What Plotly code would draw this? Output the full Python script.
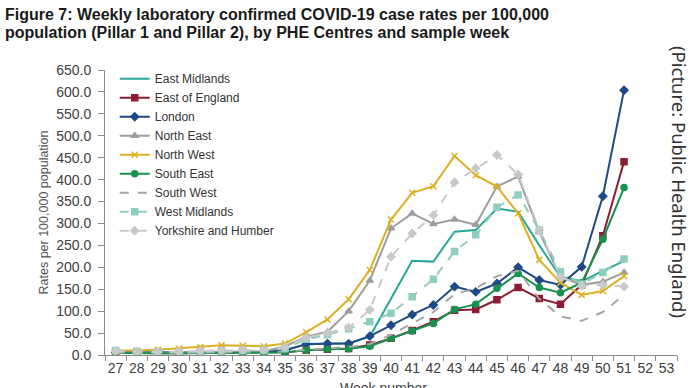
import plotly.graph_objects as go

weeks = [str(w) for w in range(27, 54)]
data_weeks = [str(w) for w in range(27, 52)]

east_midlands = [8, 7, 6, 6, 6, 7, 8, 8, 12, 24, 26, 27, 42, 128, 215, 213, 281, 285, 334, 327, 250, 178, 168, 192, 214]
east_of_england = [5, 4, 4, 4, 5, 5, 6, 6, 6, 11, 13, 15, 23, 38, 56, 76, 102, 104, 126, 154, 129, 116, 160, 272, 441]
london = [6, 5, 5, 5, 6, 6, 7, 7, 10, 25, 26, 26, 43, 68, 92, 114, 156, 144, 163, 200, 171, 160, 201, 362, 604]
north_east = [6, 5, 5, 5, 6, 7, 8, 8, 20, 42, 53, 100, 170, 289, 323, 299, 309, 297, 384, 407, 280, 178, 160, 167, 188]
north_west = [10, 10, 12, 15, 18, 22, 21, 20, 26, 52, 81, 127, 194, 309, 370, 385, 454, 410, 384, 323, 217, 165, 137, 146, 180]
south_east = [5, 4, 4, 4, 4, 5, 5, 5, 6, 11, 13, 14, 20, 38, 55, 72, 104, 116, 152, 186, 154, 142, 165, 264, 382]
south_west = [6, 5, 5, 5, 6, 7, 7, 7, 8, 12, 15, 18, 25, 46, 72, 98, 139, 152, 180, 192, 128, 88, 78, 98, 137]
west_midlands = [10, 8, 7, 7, 8, 9, 10, 10, 15, 36, 46, 60, 76, 95, 133, 173, 236, 274, 337, 365, 285, 190, 162, 188, 219]
yorkshire_humber = [8, 7, 7, 8, 9, 10, 12, 12, 18, 40, 50, 62, 103, 224, 277, 319, 394, 426, 456, 412, 285, 178, 158, 160, 156]

y_ticks = list(range(0, 651, 50))

title_line1 = "Figure 7: Weekly laboratory confirmed COVID-19 case rates per 100,000"
title_line2 = "population (Pillar 1 and Pillar 2), by PHE Centres and sample week"
source_text = "(Picture: Public Health England)"
x_title = "Week number"
y_title = "Rates per 100,000 population"

series = [
    ("East Midlands", east_midlands, "#2AA898", "solid", None),
    ("East of England", east_of_england, "#8C1D33", "solid", "square"),
    ("London", london, "#1F4A86", "solid", "diamond"),
    ("North East", north_east, "#9E9E9E", "solid", "triangle-up"),
    ("North West", north_west, "#DDB024", "solid", "x-thin-open"),
    ("South East", south_east, "#17924E", "solid", "circle"),
    ("South West", south_west, "#A6A6A6", "dash", None),
    ("West Midlands", west_midlands, "#8ECDBF", "dash", "square"),
    ("Yorkshire and Humber", yorkshire_humber, "#C9C9C9", "dash", "diamond"),
]

fig = go.Figure()
for name, vals, color, dash, symbol in series:
    mode = "lines+markers" if symbol else "lines"
    marker = dict(symbol=symbol, size=6, color=color, line=dict(color=color, width=1.5)) if symbol else None
    fig.add_trace(go.Scatter(
        x=data_weeks, y=vals, name=name, mode=mode,
        line=dict(color=color, width=2, dash=dash),
        marker=marker,
    ))

L, R, T, B = 105, 23, 70, 33
PW, PH = 700 - L - R, 388 - T - B

fig.update_layout(
    width=700, height=388,
    margin=dict(l=L, r=R, t=T, b=B, autoexpand=False),
    paper_bgcolor="white", plot_bgcolor="white",
    font=dict(family="Liberation Sans, Arial, sans-serif", color="#404040"),
    showlegend=True,
    legend=dict(
        x=0.017, y=1.02, xanchor="left", yanchor="top",
        bgcolor="rgba(0,0,0,0)", font=dict(size=12, color="#333333"),
        tracegroupgap=0, itemwidth=30,
    ),
)

fig.update_xaxes(
    type="category", categoryorder="array", categoryarray=weeks,
    tickvals=weeks, ticktext=weeks, range=[-0.5, 26.5],
    showline=True, linecolor="#8a8a8a", linewidth=1,
    ticks="outside", ticklen=5, tickcolor="#8a8a8a", tickson="boundaries",
    tickfont=dict(size=14, color="#404040"), tickangle=0,
    showgrid=False, zeroline=False, automargin=False,
)
fig.update_yaxes(
    range=[0, 650], tickvals=y_ticks, tickformat=".1f",
    showline=True, linecolor="#8a8a8a", linewidth=1,
    ticks="outside", ticklen=6, tickcolor="#8a8a8a", ticklabelstandoff=4,
    tickfont=dict(size=14, color="#404040"),
    showgrid=False, zeroline=False, automargin=False,
    title=dict(text=y_title, font=dict(size=12.5, color="#555555"), standoff=4),
)

title_font = dict(family="Liberation Sans, Arial, sans-serif", size=16, color="#1a1a1a", weight="bold")
fig.add_annotation(
    text=title_line1, xref="paper", yref="paper",
    x=(3 - L) / PW, y=(T + PH - 14) / PH, xanchor="left", yanchor="middle",
    showarrow=False, font=title_font,
)
fig.add_annotation(
    text=title_line2, xref="paper", yref="paper",
    x=(3 - L) / PW, y=(T + PH - 32) / PH, xanchor="left", yanchor="middle",
    showarrow=False, font=title_font,
)

# x-axis title sits at the very bottom edge, partly cropped as in the source picture
fig.add_annotation(
    text=x_title, xref="paper", yref="paper",
    x=(383 - L) / PW, y=(T + PH - 388) / PH, xanchor="center", yanchor="middle",
    showarrow=False, font=dict(size=14, color="#404040"),
)

fig.add_annotation(
    text=source_text, textangle=90,
    xref="paper", yref="paper", x=(680 - L) / PW, y=(T + PH - 182) / PH,
    xanchor="center", yanchor="middle", showarrow=False,
    font=dict(family="Noto Sans, Open Sans, sans-serif", size=18.5, color="#333333"),
)

fig.write_html(
    "out.html",
    config={"displayModeBar": False},
    post_script="document.body.style.margin='0';document.body.style.overflow='hidden';",
)
